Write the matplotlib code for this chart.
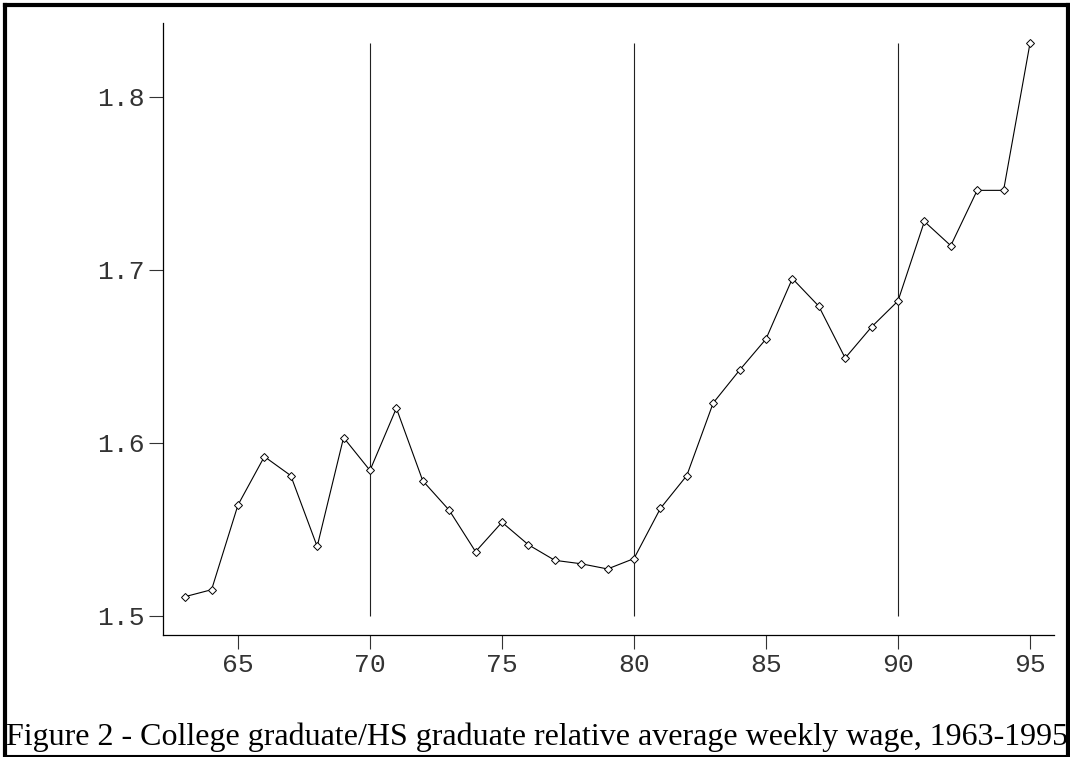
import matplotlib
matplotlib.use("Agg")
import matplotlib.pyplot as plt
from matplotlib.lines import Line2D

# relative wage, college grad / HS grad
years = list(range(63, 96))
ratio = [1.511, 1.515, 1.564, 1.592, 1.581, 1.540, 1.603, 1.584, 1.620, 1.578,
         1.561, 1.537, 1.554, 1.541, 1.532, 1.530, 1.527, 1.533, 1.562, 1.581,
         1.623, 1.642, 1.660, 1.695, 1.679, 1.649, 1.667, 1.682, 1.728, 1.714,
         1.746, 1.746, 1.831]
decades = [70, 80, 90]
xticks = [65, 70, 75, 80, 85, 90, 95]
yticks = [1.5, 1.6, 1.7, 1.8]
caption = "Figure 2 - College graduate/HS graduate relative average weekly wage, 1963-1995"

W, H = 1070, 757
fig = plt.figure(figsize=(W / 100, H / 100), dpi=100)
ax = fig.add_axes([163 / W, 122 / H, (1054 - 163) / W, (635 - 23) / H])

# decade markers, from 1.5 up to the top value
for d in decades:
    ax.vlines(d, 1.5, max(ratio), color="#222222", lw=0.8)

ax.plot(years, ratio, color="black", lw=0.8, marker="D", ms=4.5,
        mfc="white", mec="black", mew=0.7)

ax.set_xlim(62.16, 95.91)
ax.set_ylim(1.4888, 1.8428)
ax.set_xticks(xticks)
ax.set_xticklabels([str(t) for t in xticks])
ax.set_yticks(yticks)
ax.set_yticklabels([f"{t:.1f}" for t in yticks])

for s in ["top", "right"]:
    ax.spines[s].set_visible(False)
for s in ["left", "bottom"]:
    ax.spines[s].set_linewidth(0.9)

ax.tick_params(direction="out", length=10, width=0.8, color="#333333",
               labelsize=19, labelcolor="#333333", pad=3)
for lab in ax.get_xticklabels() + ax.get_yticklabels():
    lab.set_family("Liberation Mono")

# frame around the picture
def fline(x0, y0, x1, y1, lw):
    fig.add_artist(Line2D([x0 / W, x1 / W], [1 - y0 / H, 1 - y1 / H],
                          transform=fig.transFigure, color="black", lw=lw,
                          solid_capstyle="projecting"))

fline(4.5, 5, 1068, 5, 3)
fline(4.5, 5, 4.5, 756, 3)
fline(1068, 5, 1068, 756, 3)
fline(4.5, 756, 1068, 756, 1.5)

fig.text(6 / W, 12 / H, caption, family="Liberation Serif", fontsize=23,
         ha="left", va="baseline", color="black")

fig.savefig("out.png", dpi=100)
